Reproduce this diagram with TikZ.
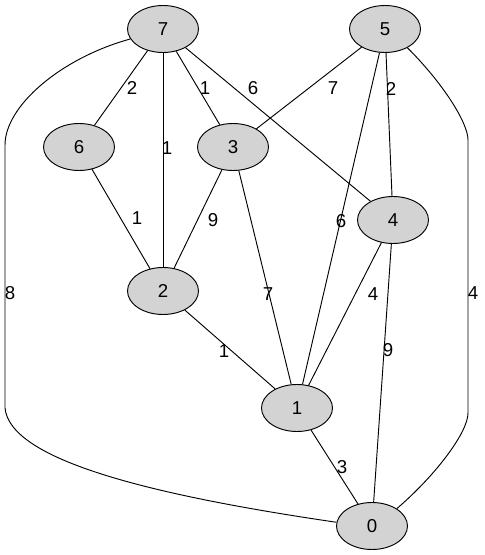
\documentclass[tikz,border=0pt]{standalone}
\usepackage{fontspec}
\setmainfont{Liberation Sans}
\usetikzlibrary{shapes.geometric}
\definecolor{nodegray}{HTML}{D3D3D3}
\tikzset{
  vtx/.style={ellipse,draw=black,fill=nodegray,line width=0.7pt,minimum width=53.25pt,minimum height=35.25pt,inner sep=0pt,font=\fontsize{14}{16}\selectfont},
  wlab/.style={inner sep=0pt,font=\fontsize{14}{16}\selectfont},
  edge/.style={draw=black,line width=0.7pt}
}
\begin{document}
\begin{tikzpicture}[x=0.75pt,y=-0.75pt]
\useasboundingbox (0,0) rectangle (484,555);
% edges first (behind nodes) using coordinates defined by nodes later -> define nodes first on a background approach
\node[vtx] (n7) at (163,29) {7};
\node[vtx] (n5) at (385,29) {5};
\node[vtx] (n6) at (79,147) {6};
\node[vtx] (n3) at (233,147) {3};
\node[vtx] (n4) at (393,220) {4};
\node[vtx] (n2) at (163,291) {2};
\node[vtx] (n1) at (297,408) {1};
\node[vtx] (n0) at (372,526) {0};
\path[edge] (n7) -- (n6);
\path[edge] (n7) -- (n2);
\path[edge] (n7) -- (n3);
\path[edge] (n7) -- (n4);
\path[edge] (n5) -- (n3);
\path[edge] (n5) -- (n1);
\path[edge] (n5) -- (n4);
\path[edge] (n6) -- (n2);
\path[edge] (n3) -- (n2);
\path[edge] (n3) -- (n1);
\path[edge] (n4) -- (n1);
\path[edge] (n4) -- (n0);
\path[edge] (n2) -- (n1);
\path[edge] (n1) -- (n0);
\path[edge] (n7.197) .. controls (61,58) and (5,106) .. (5,145) -- (5,408) .. controls (10,460) and (150,495) .. (n0.174);
\path[edge] (n5.-40) .. controls (441,81) and (468,122) .. (468,140) -- (468,413) .. controls (468,432) and (436.5,474.5) .. (n0.35);
% weights
\node[wlab] (l76) at (132,88) {2};
\node[wlab] (l72) at (167,148) {1};
\node[wlab] (l73) at (205,88) {1};
\node[wlab] (l74) at (253,88) {6};
\node[wlab] (l53) at (333,88) {7};
\node[wlab] (l54) at (391,89) {2};
\node[wlab] (l51) at (341,221) {6};
\node[wlab] (l62) at (137,218) {1};
\node[wlab] (l32) at (213,220) {9};
\node[wlab] (l31) at (268,294) {7};
\node[wlab] (l41) at (373,294) {4};
\node[wlab] (l40) at (388,350) {9};
\node[wlab] (l21) at (224,351) {1};
\node[wlab] (l10) at (342,467) {3};
\node[wlab] (l70) at (10,293) {8};
\node[wlab] (l50) at (473,293) {4};
\end{tikzpicture}
\end{document}
